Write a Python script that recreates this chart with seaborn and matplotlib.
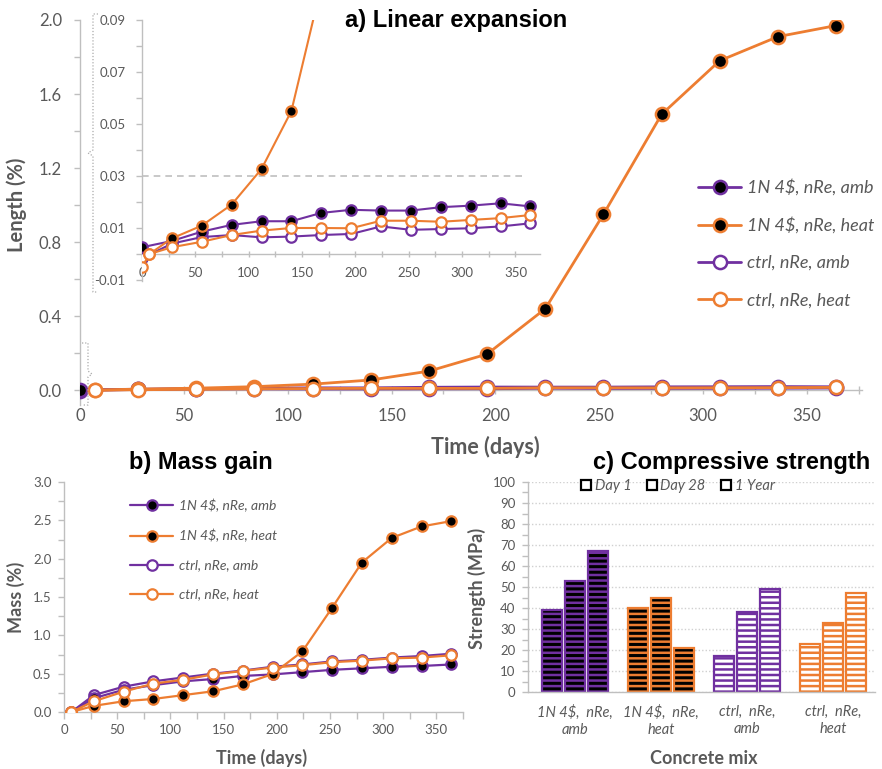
import numpy as np
import pandas as pd
import matplotlib
matplotlib.use("Agg")
import matplotlib.pyplot as plt
import seaborn as sns
from matplotlib.ticker import MultipleLocator, FixedLocator, FormatStrFormatter
from matplotlib.lines import Line2D

# ---------------- data ----------------
days = [0, 28, 56, 84, 112, 140, 168, 196, 224, 252, 280, 308, 336, 364]
days_heat = [7, 28, 56, 84, 112, 140, 168, 196, 224, 252, 280, 308, 336, 364]
days_ctrl_heat = [0, 7, 28, 56, 84, 112, 140, 168, 196, 224, 252, 280, 308, 336, 364]

len_1n_amb = [0.0026, 0.0050, 0.0086, 0.0112, 0.0126, 0.0126, 0.0158, 0.0170,
              0.0167, 0.0167, 0.0180, 0.0186, 0.0195, 0.0183]
len_1n_heat = [0.0000, 0.0060, 0.0109, 0.0190, 0.0327, 0.055, 0.103, 0.195,
               0.44, 0.95, 1.49, 1.78, 1.91, 1.97]
len_ctrl_amb = [-0.0017, 0.0040, 0.0065, 0.0073, 0.0064, 0.0067, 0.0073, 0.0077,
                0.0106, 0.0093, 0.0096, 0.0099, 0.0106, 0.0118]
len_ctrl_heat = [-0.0051, 0.0000, 0.0026, 0.0047, 0.0073, 0.0090, 0.0100, 0.0100,
                 0.0099, 0.0128, 0.0128, 0.0124, 0.0131, 0.0138, 0.0150]

mass_days = [7, 28, 56, 84, 112, 140, 168, 196, 224, 252, 280, 308, 336, 364]
mass_1n_amb = [0.0, 0.18, 0.29, 0.35, 0.40, 0.43, 0.47, 0.49, 0.52, 0.55, 0.57, 0.59, 0.60, 0.62]
mass_1n_heat = [0.0, 0.08, 0.14, 0.17, 0.22, 0.27, 0.36, 0.495, 0.79, 1.36, 1.95, 2.27, 2.42, 2.49]
mass_ctrl_amb = [0.0, 0.22, 0.33, 0.40, 0.45, 0.50, 0.54, 0.59, 0.62, 0.66, 0.68, 0.71, 0.73, 0.76]
mass_ctrl_heat = [0.0, 0.14, 0.265, 0.37, 0.42, 0.49, 0.535, 0.58, 0.61, 0.65, 0.67, 0.70, 0.71, 0.74]

series_labels = [r"1N 4\$, nRe, amb", r"1N 4\$, nRe, heat", "ctrl, nRe, amb", "ctrl, nRe, heat"]

mixes = ["1N 4\\$,  nRe,\namb", "1N 4\\$,  nRe,\nheat", "ctrl,  nRe,\namb", "ctrl,  nRe,\nheat"]
periods = ["Day 1", "Day 28", "1 Year"]
str_day1 = [39, 40, 17, 23]
str_day28 = [53, 45, 38, 33]
str_year1 = [67, 21, 49, 47]

# ---------------- style ----------------
sns.set_style("white")
plt.rcParams["font.family"] = ["Lato", "DejaVu Sans"]
plt.rcParams["hatch.linewidth"] = 1.8

PURPLE = "#7030A0"
ORANGE = "#ED7D31"
GRAY = "#595959"
AXC = "#BFBFBF"

W, H = 882, 769
fig = plt.figure(figsize=(W / 100, H / 100), dpi=100)


def rect(x0, y0, x1, y1):
    return [x0 / W, 1 - y1 / H, (x1 - x0) / W, (y1 - y0) / H]


def lab_coords(box, px, py):
    x0, y0, x1, y1 = box
    return (px - x0) / (x1 - x0), (y1 - py) / (y1 - y0)


def style_spines(ax):
    for s in ["top", "right"]:
        ax.spines[s].set_visible(False)
    for s in ["left", "bottom"]:
        ax.spines[s].set_color(AXC)
        ax.spines[s].set_linewidth(1.0)


def draw(ax, x, y, color, filled, label, ms, lw, mew, z):
    sns.lineplot(x=x, y=y, ax=ax, color=color, marker="o", markersize=ms,
                 markerfacecolor="black" if filled else "white",
                 markeredgecolor=color, markeredgewidth=mew, linewidth=lw,
                 label=label, zorder=z, legend=False)


# ---------------- panel a (main) ----------------
box_a = (80, 20, 862, 405)
axa = fig.add_axes(rect(*box_a))
axa.patch.set_alpha(0)
style_spines(axa)
draw(axa, days, len_ctrl_amb, PURPLE, False, series_labels[2], 9.5, 2.0, 1.8, 3)
draw(axa, days, len_1n_amb, PURPLE, True, series_labels[0], 9.5, 2.0, 1.8, 4)
draw(axa, days_heat, len_1n_heat, ORANGE, True, series_labels[1], 9.5, 2.0, 1.8, 5)
draw(axa, days_ctrl_heat[1:], len_ctrl_heat[1:], ORANGE, False, series_labels[3], 9.5, 2.0, 1.8, 6)
axa.set_xlim(0, 376.5)
axa.set_ylim(-0.08, 2.0)
axa.spines["bottom"].set_position(("data", 0))
axa.xaxis.set_major_locator(MultipleLocator(50))
axa.xaxis.set_minor_locator(MultipleLocator(25))
axa.yaxis.set_major_locator(MultipleLocator(0.4))
axa.yaxis.set_minor_locator(MultipleLocator(0.2))
axa.yaxis.set_major_formatter(FormatStrFormatter("%.1f"))
axa.tick_params(axis="x", which="both", direction="inout", length=6, width=1, color=AXC,
                labelsize=12, labelcolor=GRAY, pad=10, bottom=True)
axa.tick_params(axis="y", which="both", direction="out", length=4, width=1, color=AXC,
                labelsize=12, labelcolor=GRAY, pad=9, left=True)
axa.set_xlabel("Time (days)", fontsize=15.5, fontweight="bold", color=GRAY)
axa.xaxis.set_label_coords(*lab_coords(box_a, 485, 447))
axa.xaxis.label.set_va("center")
axa.set_ylabel("Length (%)", fontsize=14.5, fontweight="bold", color=GRAY)
axa.yaxis.set_label_coords(*lab_coords(box_a, 17, 205))
axa.yaxis.label.set_va("center")

h, l = axa.get_legend_handles_labels()
order = [l.index(s) for s in series_labels]
axa.legend([h[i] for i in order], [l[i] for i in order], loc="upper left",
           bbox_to_anchor=(698 / W, 1 - 179 / H), bbox_transform=fig.transFigure,
           frameon=False, borderpad=0, borderaxespad=0, handlelength=2.4,
           handletextpad=0.3, labelspacing=1.17,
           prop={"family": "Lato", "style": "italic", "size": 13}, labelcolor=GRAY)

fig.text(456 / W, 1 - 20 / H, "a) Linear expansion", ha="center", va="center",
         fontsize=17, fontweight="bold", family="Liberation Sans", color="black")

# ---------------- inset ----------------
box_i = (142, 20, 540, 281.3)
axi = fig.add_axes(rect(*box_i))
axi.patch.set_alpha(0)
style_spines(axi)
axi.axhline(0.03, xmin=0, xmax=(527 - 142) / (540 - 142), color=AXC, lw=1.2,
            ls=(0, (4, 3)), zorder=1)
draw(axi, days, len_ctrl_amb, PURPLE, False, None, 7.5, 1.5, 1.6, 3)
draw(axi, days, len_1n_amb, PURPLE, True, None, 7.5, 1.5, 1.6, 4)
draw(axi, days_heat, len_1n_heat, ORANGE, True, None, 7.5, 1.5, 1.6, 5)
draw(axi, days_ctrl_heat, len_ctrl_heat, ORANGE, False, None, 7.5, 1.5, 1.6, 6)
axi.set_xlim(0, 373)
axi.set_ylim(-0.0105, 0.09)
axi.spines["bottom"].set_position(("data", 0))
axi.xaxis.set_major_locator(MultipleLocator(50))
axi.xaxis.set_minor_locator(MultipleLocator(25))
axi.yaxis.set_major_locator(FixedLocator([-0.01, 0.01, 0.03, 0.05, 0.07, 0.09]))
axi.yaxis.set_minor_locator(FixedLocator([0.0, 0.02, 0.04, 0.06, 0.08]))
axi.yaxis.set_major_formatter(FormatStrFormatter("%.2f"))
axi.tick_params(axis="x", which="both", direction="inout", length=5, width=1, color=AXC,
                labelsize=9.5, labelcolor=GRAY, pad=7, bottom=True)
axi.tick_params(axis="y", which="both", direction="out", length=4, width=1, color=AXC,
                labelsize=9.5, labelcolor=GRAY, pad=8, left=True)
axi.set_xlabel("")
axi.set_ylabel("")

# zoom brackets
br1 = [(98, 14), (93, 14), (93, 150), (88, 153), (93, 156), (93, 292), (98, 292)]
br2 = [(82, 343), (88, 343), (88, 371), (92, 374), (88, 377), (88, 405), (82, 405)]
for br in (br1, br2):
    xs = [p[0] / W for p in br]
    ys = [1 - p[1] / H for p in br]
    fig.add_artist(Line2D(xs, ys, transform=fig.transFigure, color="#AAAAAA",
                          lw=0.9, ls=(0, (1, 1.5))))

# ---------------- panel b ----------------
box_b = (64, 482, 463, 712)
axb = fig.add_axes(rect(*box_b))
style_spines(axb)
draw(axb, mass_days, mass_ctrl_amb, PURPLE, False, series_labels[2], 7.5, 1.6, 1.6, 3)
draw(axb, mass_days, mass_1n_amb, PURPLE, True, series_labels[0], 7.5, 1.6, 1.6, 4)
draw(axb, mass_days, mass_1n_heat, ORANGE, True, series_labels[1], 7.5, 1.6, 1.6, 5)
draw(axb, mass_days, mass_ctrl_heat, ORANGE, False, series_labels[3], 7.5, 1.6, 1.6, 6)
axb.set_xlim(0, 375)
axb.set_ylim(0, 3.0)
axb.xaxis.set_major_locator(MultipleLocator(50))
axb.xaxis.set_minor_locator(MultipleLocator(25))
axb.yaxis.set_major_locator(MultipleLocator(0.5))
axb.yaxis.set_minor_locator(MultipleLocator(0.25))
axb.yaxis.set_major_formatter(FormatStrFormatter("%.1f"))
axb.tick_params(axis="x", which="both", direction="out", length=5, width=1, color=AXC,
                labelsize=9.5, labelcolor=GRAY, pad=4, bottom=True)
axb.tick_params(axis="y", which="both", direction="out", length=4, width=1, color=AXC,
                labelsize=9.5, labelcolor=GRAY, pad=5, left=True)
axb.set_xlabel("Time (days)", fontsize=13, fontweight="bold", color=GRAY)
axb.xaxis.set_label_coords(*lab_coords(box_b, 262, 758))
axb.xaxis.label.set_va("center")
axb.set_ylabel("Mass (%)", fontsize=13, fontweight="bold", color=GRAY)
axb.yaxis.set_label_coords(*lab_coords(box_b, 16, 597))
axb.yaxis.label.set_va("center")
h, l = axb.get_legend_handles_labels()
order = [l.index(s) for s in series_labels]
axb.legend([h[i] for i in order], [l[i] for i in order], loc="upper left",
           bbox_to_anchor=(130 / W, 1 - 499 / H), bbox_transform=fig.transFigure,
           frameon=False, borderpad=0, borderaxespad=0, handlelength=3.1,
           handletextpad=0.4, labelspacing=1.22,
           prop={"family": "Lato", "style": "italic", "size": 10}, labelcolor=GRAY)
fig.text(201 / W, 1 - 462 / H, "b) Mass gain", ha="center", va="center",
         fontsize=17, fontweight="bold", family="Liberation Sans", color="black")

# ---------------- panel c ----------------
box_c = (528, 482, 875, 692)
axc = fig.add_axes(rect(*box_c))
style_spines(axc)
df = pd.DataFrame({
    "mix": mixes * 3,
    "period": [periods[0]] * 4 + [periods[1]] * 4 + [periods[2]] * 4,
    "strength": str_day1 + str_day28 + str_year1,
})
sns.barplot(data=df, x="mix", y="strength", hue="period", hue_order=periods,
            order=mixes, ax=axc, width=0.8, gap=0.15, legend=False,
            palette=["black"] * 3, saturation=1)
edge_cols = [PURPLE, ORANGE, PURPLE, ORANGE]
face_cols = ["black", "black", "white", "white"]
for cont in axc.containers:
    for j, bar in enumerate(cont):
        bar.set_facecolor(face_cols[j])
        bar.set_edgecolor(edge_cols[j])
        bar.set_linewidth(1.6)
        bar.set_hatch("---")
        if hasattr(bar, "set_hatch_linewidth"):
            bar.set_hatch_linewidth(1.8)
axc.set_xlim(-0.547, 3.49)
axc.set_ylim(0, 100)
axc.yaxis.set_major_locator(MultipleLocator(10))
axc.yaxis.set_minor_locator(MultipleLocator(5))
axc.yaxis.grid(True, which="major", color="#D0D0D0", ls=(0, (1, 1.5)), lw=1.0)
axc.set_axisbelow(True)
axc.tick_params(axis="x", which="both", length=0, labelsize=10.5, labelcolor=GRAY, pad=9)
for t in axc.get_xticklabels():
    t.set_fontstyle("italic")
    t.set_linespacing(1.35)
axc.tick_params(axis="y", which="both", direction="out", length=4, width=1, color=AXC,
                labelsize=9.5, labelcolor=GRAY, pad=5, left=True)
axc.set_xlabel("Concrete mix", fontsize=13, fontweight="bold", color=GRAY)
axc.xaxis.set_label_coords(*lab_coords(box_c, 704, 758))
axc.xaxis.label.set_va("center")
axc.set_ylabel("Strength (MPa)", fontsize=13, fontweight="bold", color=GRAY)
axc.yaxis.set_label_coords(*lab_coords(box_c, 477, 588))
axc.yaxis.label.set_va("center")
leg_handles = [Line2D([], [], marker="s", ls="none", mfc="white", mec="black",
                      mew=1.6, ms=7) for _ in periods]
axc.legend(leg_handles, periods, loc="upper left", ncol=3,
           bbox_to_anchor=(580 / W, 1 - 479 / H), bbox_transform=fig.transFigure,
           frameon=False, borderpad=0, borderaxespad=0, handlelength=0.8,
           handletextpad=0.2, columnspacing=1.0,
           prop={"family": "Lato", "style": "italic", "size": 10.5}, labelcolor=GRAY)
fig.text(732 / W, 1 - 462 / H, "c) Compressive strength", ha="center", va="center",
         fontsize=17, fontweight="bold", family="Liberation Sans", color="black")

fig.savefig("out.png", dpi=100, facecolor="white")
